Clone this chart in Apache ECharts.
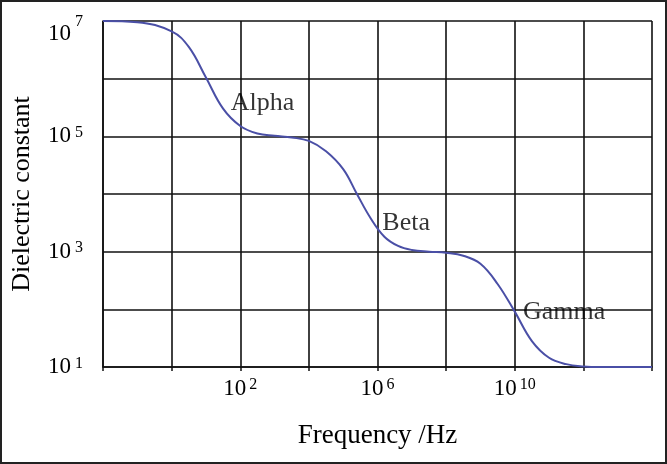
<!DOCTYPE html>
<html>
<head>
<meta charset="utf-8">
<script src="https://cdn.jsdelivr.net/npm/echarts@6/dist/echarts.min.js"></script>
<style>
html,body{margin:0;padding:0;background:#fff;}
#c{width:667px;height:464px;}
</style>
</head>
<body>
<div id="c"></div>
<script>
// log10(frequency / Hz)
const freqExp = [-2, -1, 0, 0.5, 1.0, 1.5, 2.0, 2.5, 3.0, 3.5, 4.0, 4.5, 5.0, 5.4, 5.8, 6.2, 6.6, 7.0, 7.5, 8.0, 8.5, 9.0, 9.5, 10.0, 10.5, 11.0, 11.5, 12.0, 12.5, 14];
// log10(dielectric constant)
const epsExp  = [7, 6.98, 6.82, 6.55, 6.02, 5.48, 5.18, 5.05, 5.01, 4.98, 4.92, 4.74, 4.43, 4.0, 3.58, 3.26, 3.10, 3.03, 3.0, 2.98, 2.93, 2.79, 2.44, 1.96, 1.45, 1.16, 1.05, 1.01, 1.0, 1.0];
const xTickLabels = [2, 6, 10];
const yTickLabels = [1, 3, 5, 7];
const annotations = [
  {name: 'Alpha', x: 1.72, y: 5.57},
  {name: 'Beta', x: 6.14, y: 3.50},
  {name: 'Gamma', x: 10.24, y: 1.95}
];

const FONT = "'Liberation Serif', 'Times New Roman', serif";
const chart = echarts.init(document.getElementById('c'), null, {renderer: 'canvas'});
chart.setOption({
  backgroundColor: '#fff',
  animation: false,
  grid: {left: 103, right: 15, top: 21, bottom: 97, containLabel: false},
  graphic: [{
    type: 'rect', shape: {x: 1, y: 1, width: 665, height: 462},
    style: {fill: 'none', stroke: '#222', lineWidth: 2}, silent: true
  }],
  xAxis: {
    type: 'value', min: -2, max: 14, interval: 2,
    name: 'Frequency /Hz', nameLocation: 'middle', nameGap: 55,
    nameTextStyle: {fontFamily: FONT, fontSize: 27, color: '#000'},
    axisLine: {show: true, onZero: false, lineStyle: {color: '#111', width: 1.6}},
    axisTick: {show: true, length: 4, lineStyle: {color: '#111', width: 1.5}},
    splitLine: {show: true, lineStyle: {color: '#111', width: 1.6}},
    axisLabel: {
      margin: 10, color: '#000',
      formatter: v => xTickLabels.includes(v) ? '{b|10}{s|' + v + '}' : '',
      rich: {
        b: {fontFamily: FONT, fontSize: 23, color: '#000'},
        s: {fontFamily: FONT, fontSize: 16, color: '#000', verticalAlign: 'top', padding: [0, 0, 0, 3]}
      }
    }
  },
  yAxis: {
    type: 'value', min: 1, max: 7, interval: 1,
    name: 'Dielectric constant', nameLocation: 'middle', nameGap: 68, nameRotate: 90,
    nameTextStyle: {fontFamily: FONT, fontSize: 26, color: '#000'},
    axisLine: {show: true, onZero: false, lineStyle: {color: '#111', width: 1.6}},
    axisTick: {show: false},
    splitLine: {show: true, lineStyle: {color: '#111', width: 1.6}},
    axisLabel: {
      margin: 20, color: '#000',
      formatter: v => yTickLabels.includes(v) ? (v === 7 ? '{bt|10}{st|' + v + '}' : '{b|10}{s|' + v + '}') : '',
      rich: {
        b: {fontFamily: FONT, fontSize: 23, color: '#000'},
        s: {fontFamily: FONT, fontSize: 16, color: '#000', verticalAlign: 'top', padding: [0, 0, 0, 4]},
        bt: {fontFamily: FONT, fontSize: 23, color: '#000', padding: [26, 0, 0, 0]},
        st: {fontFamily: FONT, fontSize: 16, color: '#000', verticalAlign: 'top', padding: [17, 0, 0, 4]}
      }
    }
  },
  series: [{
    type: 'line',
    data: freqExp.map((x, i) => [x, epsExp[i]]),
    smooth: 0.4,
    showSymbol: false, symbol: 'none',
    lineStyle: {color: '#4a4fa6', width: 2},
    z: 5
  }, {
    type: 'scatter',
    data: annotations.map(a => ({name: a.name, value: [a.x, a.y]})),
    symbolSize: 0,
    label: {
      show: true, position: 'right', distance: 0,
      formatter: p => p.name,
      fontFamily: FONT, fontSize: 26, color: '#000'
    },
    z: 6
  }]
});
</script>
</body>
</html>
